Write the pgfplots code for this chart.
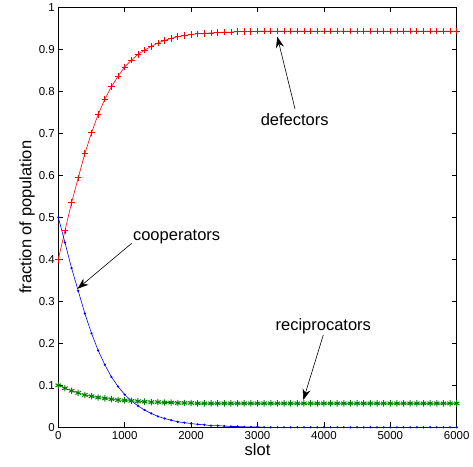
\documentclass[border=0pt]{standalone}
\usepackage{fontspec}
\setmainfont{Liberation Sans}
\usepackage{pgfplots}
\pgfplotsset{compat=1.18}
\usepackage{pgfplotstable}
\usetikzlibrary{arrows.meta}

% slot, defectors, cooperators, reciprocators
\pgfplotstableread{
x     D      C      R
0     0.400  0.500  0.100
100   0.468  0.440  0.093
200   0.535  0.379  0.087
300   0.594  0.325  0.082
400   0.652  0.271  0.077
500   0.701  0.224  0.074
600   0.745  0.183  0.071
700   0.781  0.149  0.069
800   0.811  0.120  0.067
900   0.836  0.097  0.065
1000  0.858  0.078  0.064
1100  0.874  0.063  0.063
1200  0.888  0.051  0.062
1300  0.898  0.041  0.061
1400  0.907  0.033  0.060
1500  0.915  0.026  0.060
1600  0.921  0.021  0.059
1700  0.926  0.017  0.059
1800  0.930  0.013  0.058
1900  0.933  0.011  0.058
2000  0.935  0.009  0.058
2100  0.937  0.007  0.057
2200  0.938  0.006  0.057
2300  0.939  0.004  0.057
2400  0.940  0.004  0.057
2500  0.941  0.003  0.057
2600  0.941  0.002  0.057
2700  0.942  0.002  0.057
2800  0.942  0.001  0.057
2900  0.942  0.001  0.057
3000  0.943  0.001  0.057
3100  0.943  0.000  0.057
3200  0.943  0.000  0.057
3300  0.943  0.000  0.057
3400  0.943  0.000  0.057
3500  0.943  0.000  0.057
3600  0.943  0.000  0.057
3700  0.943  0.000  0.057
3800  0.943  0.000  0.057
3900  0.943  0.000  0.057
4000  0.943  0.000  0.057
4100  0.943  0.000  0.057
4200  0.943  0.000  0.057
4300  0.943  0.000  0.057
4400  0.943  0.000  0.057
4500  0.943  0.000  0.057
4600  0.943  0.000  0.057
4700  0.943  0.000  0.057
4800  0.943  0.000  0.057
4900  0.943  0.000  0.057
5000  0.943  0.000  0.057
5100  0.943  0.000  0.057
5200  0.943  0.000  0.057
5300  0.943  0.000  0.057
5400  0.943  0.000  0.057
5500  0.943  0.000  0.057
5600  0.943  0.000  0.057
5700  0.943  0.000  0.057
5800  0.943  0.000  0.057
5900  0.943  0.000  0.057
6000  0.943  0.000  0.057
}\popdata

\definecolor{mgreen}{rgb}{0,0.5,0}

\begin{document}
\begin{tikzpicture}
\begin{axis}[
    scale only axis,
    width=398.4pt,
    height=420pt,
    xmin=0, xmax=6000,
    ymin=0, ymax=1,
    xtick={0,1000,...,6000},
    ytick={0,0.1,...,1.0},
    yticklabels={0,0.1,0.2,0.3,0.4,0.5,0.6,0.7,0.8,0.9,1},
    scaled x ticks=false,
    /pgf/number format/1000 sep={},
    /pgf/number format/assume math mode=true,
    tick align=inside,
    major tick length=5pt,
    tick style={black, line width=0.6pt},
    axis line style={line width=0.8pt},
    ticklabel style={font=\fontsize{11.5}{13}\selectfont},
    xticklabel style={yshift=-1pt},
    xlabel={slot},
    ylabel={fraction of population},
    label style={font=\fontsize{16.5}{18}\selectfont},
    xlabel style={yshift=3pt},
    ylabel style={yshift=-3pt},
    clip=false,
]
\addplot[red, line width=0.6pt, mark=+, mark size=3.2pt, mark options={line width=0.8pt}] table[x=x, y=D] {\popdata};
\addplot[blue, line width=0.6pt, mark=*, mark size=0.8pt] table[x=x, y=C] {\popdata};
\addplot[mgreen, line width=0.6pt, mark=asterisk, mark size=3.2pt, mark options={line width=1pt}] table[x=x, y=R] {\popdata};

\node[font=\fontsize{16.5}{18}\selectfont] at (axis cs:3560,0.732) {defectors};
\draw[-{Stealth[length=11pt,width=8pt]}, line width=0.6pt] (axis cs:3565,0.758) -- (axis cs:3298,0.930);

\node[font=\fontsize{16.5}{18}\selectfont] at (axis cs:1782,0.453) {cooperators};
\draw[-{Stealth[length=11pt,width=8pt]}, line width=0.6pt] (axis cs:1105,0.438) -- (axis cs:290,0.330);

\node[font=\fontsize{16.5}{18}\selectfont] at (axis cs:3991,0.240) {reciprocators};
\draw[-{Stealth[length=11pt,width=8pt]}, line width=0.6pt] (axis cs:3991,0.220) -- (axis cs:3690,0.065);

\coordinate (sw) at (rel axis cs:0,0);
\coordinate (ne) at (rel axis cs:1,1);
\end{axis}
\pgfresetboundingbox
\path[use as bounding box] ([shift={(-58.3pt,-38.7pt)}]sw) rectangle ([shift={(16.3pt,7.3pt)}]ne);
\end{tikzpicture}
\end{document}
